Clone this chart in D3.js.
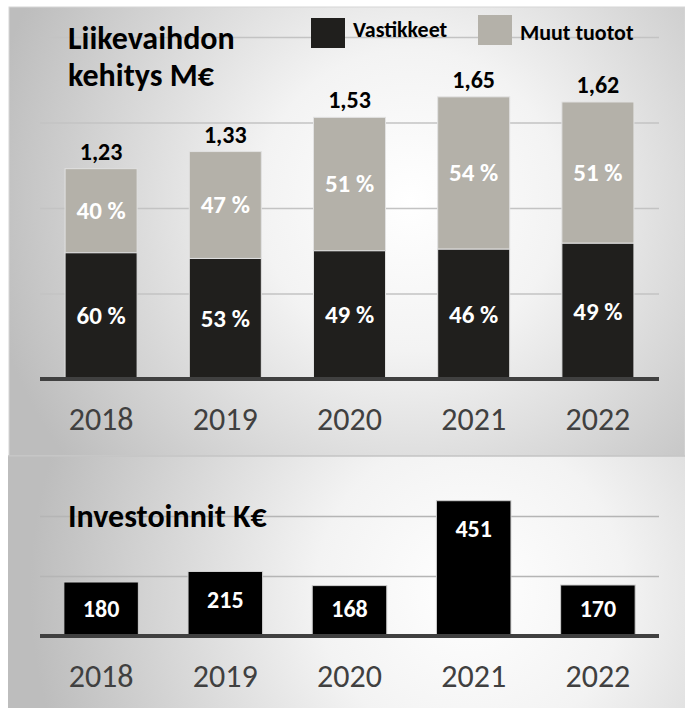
<!DOCTYPE html>
<html lang="fi">
<head>
<meta charset="utf-8">
<script src="https://cdn.jsdelivr.net/npm/d3@7"></script>
<style>
  body { margin: 0; background: #fff; }
  svg { display: block; font-family: Carlito, Lato, "Open Sans", sans-serif; }
</style>
</head>
<body>
<div id="chart"></div>
<script>
// Data
const years = ["2018", "2019", "2020", "2021", "2022"];
const totals = [1.23, 1.33, 1.53, 1.65, 1.62];
const vastikkeetPct = [60, 53, 49, 46, 49];
const muutPct = [40, 47, 51, 54, 51];
const investments = [180, 215, 168, 451, 170];
const topTicks = [0.5, 1.0, 1.5, 2.0];
const bottomTicks = [200, 400];
const legendLabels = ["Vastikkeet", "Muut tuotot"];

const colors = { vastikkeet: "#201f1d", muut: "#b4b1a9", invest: "#000000" };

const W = 685, H = 708;
const svg = d3.select("#chart").append("svg")
  .attr("width", W)
  .attr("height", H);

const defs = svg.append("defs");

// Taustat (radial gradient)
function radial(id, cx, cy, r) {
  const g = defs.append("radialGradient")
    .attr("id", id)
    .attr("gradientUnits", "userSpaceOnUse")
    .attr("cx", cx).attr("cy", cy).attr("r", r);
  g.append("stop").attr("offset", "0%").attr("stop-color", "#ffffff");
  g.append("stop").attr("offset", "35%").attr("stop-color", "#f3f3f3");
  g.append("stop").attr("offset", "100%").attr("stop-color", "#bdbdbd");
}
radial("bg-top", 410, 200, 430);
radial("bg-bottom", 470, 590, 440);

svg.append("rect")
  .attr("x", 9).attr("y", 7)
  .attr("width", W - 9).attr("height", 449)
  .attr("fill", "url(#bg-top)")
  .attr("stroke", "#d6d6d6");

svg.append("rect")
  .attr("x", 8).attr("y", 456)
  .attr("width", W - 8).attr("height", H - 456)
  .attr("fill", "url(#bg-bottom)");

svg.append("line")
  .attr("x1", 8).attr("x2", W)
  .attr("y1", 456).attr("y2", 456)
  .attr("stroke", "#c4c4c4")
  .attr("stroke-width", 1.5);

// Yhteinen x-asteikko
const x = d3.scaleBand()
  .domain(years)
  .range([39, 660])
  .paddingInner(0.42)
  .paddingOuter(0.21);

const xInv = d3.scaleBand()
  .domain(years)
  .range([39, 660])
  .paddingInner(0.40)
  .paddingOuter(0.20);

const fmtTotal = v => d3.format(".2f")(v).replace(".", ",");

// ---------- Ylempi kaavio: Liikevaihdon kehitys ----------
const yTop = d3.scaleLinear().domain([0, 2]).range([379, 37]);

svg.append("g")
  .attr("transform", "translate(40,0)")
  .call(d3.axisLeft(yTop).tickValues(topTicks).tickSize(-619).tickFormat(""))
  .call(g => g.select(".domain").remove())
  .call(g => g.selectAll(".tick line")
    .attr("stroke", "#c3c3c3")
    .attr("stroke-width", 1.5));

const stacked = years.map((yr, i) => {
  const v = totals[i] * vastikkeetPct[i] / 100;
  return { year: yr, total: totals[i], v: v, vp: vastikkeetPct[i], mp: muutPct[i] };
});

const topBars = svg.append("g");

// Muut tuotot (harmaa)
topBars.selectAll(".muut")
  .data(stacked)
  .join("rect")
  .attr("x", d => x(d.year))
  .attr("width", x.bandwidth())
  .attr("y", d => yTop(d.total))
  .attr("height", d => yTop(d.v) - yTop(d.total))
  .attr("fill", colors.muut)
  .attr("stroke", "#e2e2e2")
  .attr("stroke-width", 1);

// Vastikkeet (musta)
topBars.selectAll(".vast")
  .data(stacked)
  .join("rect")
  .attr("x", d => x(d.year))
  .attr("width", x.bandwidth())
  .attr("y", d => yTop(d.v))
  .attr("height", d => yTop(0) - yTop(d.v))
  .attr("fill", colors.vastikkeet)
  .attr("stroke", "#e2e2e2")
  .attr("stroke-width", 1);

// Prosenttiosuudet
topBars.selectAll(".muut-label")
  .data(stacked)
  .join("text")
  .attr("x", d => x(d.year) + x.bandwidth() / 2)
  .attr("y", d => (yTop(d.total) + yTop(d.v)) / 2 + 8)
  .attr("text-anchor", "middle")
  .attr("fill", "#ffffff")
  .attr("font-weight", "bold")
  .attr("font-size", 25)
  .text(d => d.mp + " %");

topBars.selectAll(".vast-label")
  .data(stacked)
  .join("text")
  .attr("x", d => x(d.year) + x.bandwidth() / 2)
  .attr("y", d => (yTop(d.v) + yTop(0)) / 2 + 8.5)
  .attr("text-anchor", "middle")
  .attr("fill", "#ffffff")
  .attr("font-weight", "bold")
  .attr("font-size", 25)
  .text(d => d.vp + " %");

// Kokonaissummat
topBars.selectAll(".total-label")
  .data(stacked)
  .join("text")
  .attr("x", d => x(d.year) + x.bandwidth() / 2)
  .attr("y", d => yTop(d.total) - 9)
  .attr("text-anchor", "middle")
  .attr("fill", "#000000")
  .attr("font-weight", "bold")
  .attr("font-size", 24)
  .text(d => fmtTotal(d.total));

// Vuosiakseli
function yearAxis(y0, scale) {
  const g = svg.append("g")
    .attr("transform", `translate(0,${y0})`)
    .call(d3.axisBottom(scale).tickSize(0))
    .call(g => g.select(".domain").remove());
  g.selectAll(".tick text")
    .attr("y", 51)
    .attr("dy", 0)
    .attr("fill", "#404040")
    .attr("font-size", 32)
    .attr("font-family", "Carlito, Lato, 'Open Sans', sans-serif");
  svg.append("line")
    .attr("x1", 40).attr("x2", 659)
    .attr("y1", y0).attr("y2", y0)
    .attr("stroke", "#404040")
    .attr("stroke-width", 4);
}
yearAxis(379, x);

// Otsikko
const title = svg.append("text")
  .attr("x", 68)
  .attr("y", 49)
  .attr("font-size", 32)
  .attr("font-weight", "bold")
  .attr("fill", "#000");
title.append("tspan").attr("x", 68).text("Liikevaihdon");
title.append("tspan").attr("x", 68).attr("dy", 37).text("kehitys M€");

// Selite
const legendItems = [
  { label: legendLabels[0], color: colors.vastikkeet, rx: 311, ry: 18, tx: 353, ty: 37 },
  { label: legendLabels[1], color: colors.muut, rx: 478, ry: 15, tx: 520, ty: 40 }
];
const legend = svg.append("g");
legend.selectAll("rect")
  .data(legendItems)
  .join("rect")
  .attr("x", d => d.rx)
  .attr("y", d => d.ry)
  .attr("width", 34)
  .attr("height", 30)
  .attr("fill", d => d.color);
legend.selectAll("text")
  .data(legendItems)
  .join("text")
  .attr("x", d => d.tx)
  .attr("y", d => d.ty)
  .attr("font-size", 22)
  .attr("font-weight", "bold")
  .attr("fill", "#000")
  .text(d => d.label);

// ---------- Alempi kaavio: Investoinnit ----------
const yBot = d3.scaleLinear().domain([0, 600]).range([636, 456]);

svg.append("g")
  .attr("transform", "translate(40,0)")
  .call(d3.axisLeft(yBot).tickValues(bottomTicks).tickSize(-619).tickFormat(""))
  .call(g => g.select(".domain").remove())
  .call(g => g.selectAll(".tick line")
    .attr("stroke", "#b5b5b5")
    .attr("stroke-width", 1.5));

svg.append("text")
  .attr("x", 68)
  .attr("y", 527)
  .attr("font-size", 32)
  .attr("font-weight", "bold")
  .attr("fill", "#000")
  .text("Investoinnit K€");

const invData = years.map((yr, i) => ({ year: yr, value: investments[i] }));

svg.append("g").selectAll("rect")
  .data(invData)
  .join("rect")
  .attr("x", d => xInv(d.year))
  .attr("width", xInv.bandwidth())
  .attr("y", d => yBot(d.value))
  .attr("height", d => yBot(0) - yBot(d.value))
  .attr("fill", colors.invest)
  .attr("stroke", "#cfcfcf")
  .attr("stroke-width", 1);

svg.append("g").selectAll("text")
  .data(invData)
  .join("text")
  .attr("x", d => xInv(d.year) + xInv.bandwidth() / 2)
  .attr("y", d => Math.min(yBot(d.value) + 36, yBot(0) - 19))
  .attr("text-anchor", "middle")
  .attr("fill", "#ffffff")
  .attr("font-weight", "bold")
  .attr("font-size", 24)
  .text(d => d.value);

yearAxis(636, x);
</script>
</body>
</html>
